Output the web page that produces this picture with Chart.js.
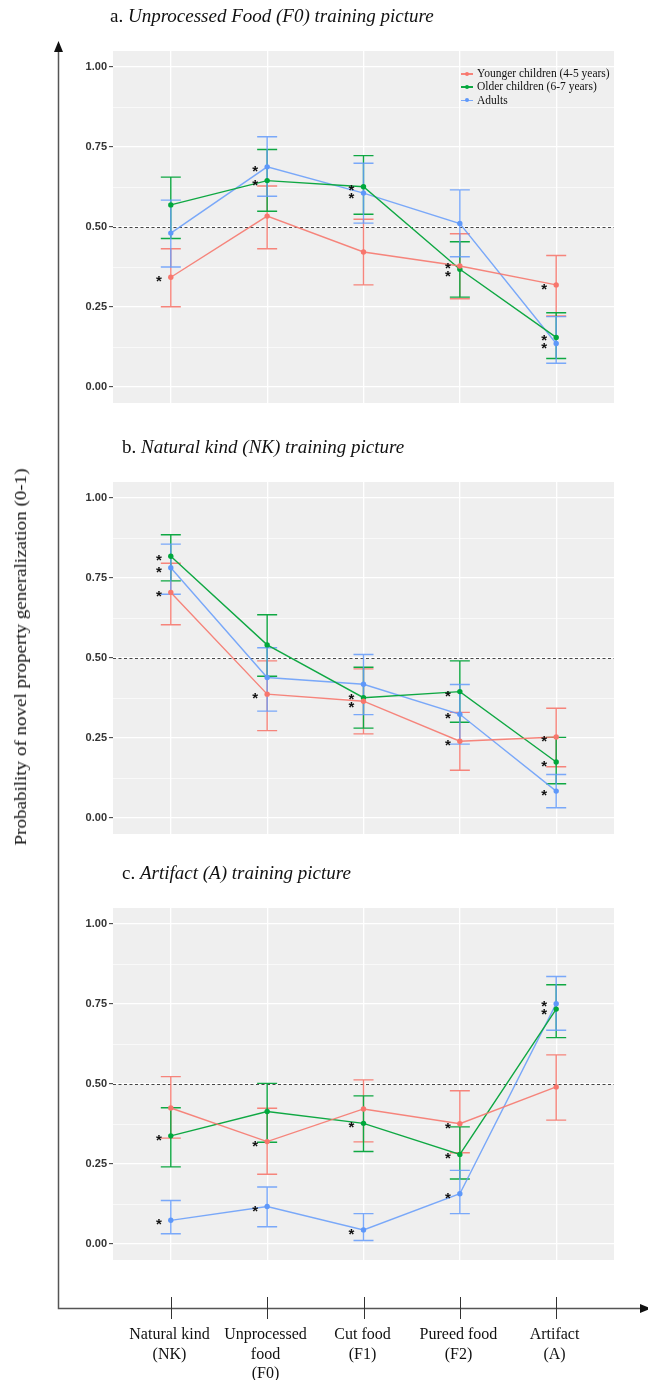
<!DOCTYPE html>
<html>
<head>
<meta charset="utf-8">
<script src="https://cdn.jsdelivr.net/npm/chart.js@4"></script>
<style>
  body { margin: 0; background: #fff; width: 648px; height: 1380px; position: relative; overflow: hidden; font-family: "Liberation Serif", serif; color: #111; }
  canvas { position: absolute; left: 0; }
  .title { position: absolute; font-size: 19px; line-height: 20px; white-space: nowrap; }
  .legend { position: absolute; left: 461px; top: 67px; font-size: 11.5px; line-height: 13.3px; white-space: nowrap; }
  .legend .sym { display: inline-block; position: relative; width: 12px; height: 13px; vertical-align: top; margin-right: 4px; }
  .legend .sym i { position: absolute; left: 0; top: 6px; width: 12px; height: 1.5px; }
  .legend .sym b { position: absolute; left: 4px; top: 4.8px; width: 4px; height: 4px; border-radius: 50%; }
  .xlab { position: absolute; width: 130px; text-align: center; font-size: 16px; line-height: 19.5px; top: 1324px; }
  .ytitle { position: absolute; left: 21px; top: 657px; font-size: 17px; white-space: nowrap; transform: translate(-50%, -50%) rotate(-90deg) scaleX(1.12); }
</style>
</head>
<body>
<canvas id="axes" width="648" height="1380"></canvas>
<canvas id="chartA" width="648" height="380" style="top:40px"></canvas>
<canvas id="chartB" width="648" height="380" style="top:471px"></canvas>
<canvas id="chartC" width="648" height="380" style="top:897px"></canvas>

<div class="title" style="left:110px;top:6px">a. <i>Unprocessed Food (F0) training picture</i></div>
<div class="title" style="left:122px;top:437px">b. <i>Natural kind (NK) training picture</i></div>
<div class="title" style="left:122px;top:863px">c. <i>Artifact (A) training picture</i></div>
<div class="ytitle">Probability of novel property generalization (0-1)</div>
<div class="legend" id="legend"></div>

<script>
// categories on the x axis (one row per label line)
const categories = [
  ["Natural kind", "(NK)"],
  ["Unprocessed", "food", "(F0)"],
  ["Cut food", "(F1)"],
  ["Pureed food", "(F2)"],
  ["Artifact", "(A)"],
];
const groups = ["Younger children (4-5 years)", "Older children (6-7 years)", "Adults"];
const yTicks = [0, 0.25, 0.5, 0.75, 1];
const chanceLevel = 0.5;

// a. Unprocessed food (F0) training picture
const youngA = [0.343, 0.534, 0.422, 0.378, 0.319];
const youngALo = [0.251, 0.432, 0.319, 0.276, 0.222];
const youngAHi = [0.432, 0.628, 0.524, 0.479, 0.411];
const olderA = [0.569, 0.645, 0.626, 0.368, 0.155];
const olderALo = [0.464, 0.549, 0.540, 0.281, 0.089];
const olderAHi = [0.656, 0.742, 0.723, 0.454, 0.232];
const adultA = [0.481, 0.688, 0.606, 0.511, 0.136];
const adultALo = [0.375, 0.596, 0.512, 0.407, 0.074];
const adultAHi = [0.584, 0.782, 0.699, 0.616, 0.220];
const starsA = [[1, 0, 0, 1, 1], [0, 1, 1, 1, 1], [0, 1, 1, 0, 1]];

// b. Natural kind (NK) training picture
const youngB = [0.705, 0.387, 0.365, 0.240, 0.253];
const youngBLo = [0.604, 0.273, 0.263, 0.149, 0.160];
const youngBHi = [0.796, 0.491, 0.466, 0.330, 0.343];
const olderB = [0.818, 0.541, 0.376, 0.395, 0.175];
const olderBLo = [0.741, 0.443, 0.281, 0.299, 0.107];
const olderBHi = [0.885, 0.635, 0.471, 0.491, 0.252];
const adultB = [0.782, 0.439, 0.418, 0.324, 0.084];
const adultBLo = [0.699, 0.334, 0.323, 0.231, 0.032];
const adultBHi = [0.856, 0.532, 0.511, 0.417, 0.136];
const starsB = [[1, 1, 1, 1, 1], [1, 0, 1, 1, 1], [1, 0, 0, 1, 1]];

// c. Artifact (A) training picture
const youngC = [0.425, 0.320, 0.422, 0.376, 0.491];
const youngCLo = [0.331, 0.218, 0.319, 0.285, 0.387];
const youngCHi = [0.523, 0.424, 0.513, 0.479, 0.591];
const olderC = [0.338, 0.414, 0.377, 0.280, 0.734];
const olderCLo = [0.241, 0.318, 0.289, 0.203, 0.645];
const olderCHi = [0.426, 0.502, 0.463, 0.366, 0.810];
const adultC = [0.074, 0.117, 0.044, 0.157, 0.751];
const adultCLo = [0.032, 0.054, 0.011, 0.095, 0.668];
const adultCHi = [0.136, 0.178, 0.095, 0.230, 0.836];
const starsC = [[0, 1, 0, 1, 0], [1, 0, 1, 1, 1], [1, 1, 1, 1, 1]];

const lineColors = ["rgba(246,120,110,0.9)", "#0FA843", "rgba(100,155,250,0.85)"];
const dotColors = ["#F8766D", "#00A83C", "#5E98FA"];

// background, chance line, error bars, significance stars
const panelPlugin = {
  id: "panel",
  beforeDraw(chart) {
    const a = chart.chartArea, c = chart.ctx;
    c.save();
    c.fillStyle = "#EFEFEF";
    c.fillRect(a.left, a.top, a.right - a.left, a.bottom - a.top);
    c.restore();
  },
  beforeDatasetsDraw(chart) {
    const a = chart.chartArea, c = chart.ctx;
    const xs = chart.scales.x, ys = chart.scales.y;
    c.save();
    // dashed line at chance
    const y5 = Math.round(ys.getPixelForValue(chanceLevel)) + 0.5;
    c.strokeStyle = "#333";
    c.lineWidth = 0.9;
    c.setLineDash([3, 2.5]);
    c.beginPath();
    c.moveTo(a.left, y5);
    c.lineTo(a.right, y5);
    c.stroke();
    c.setLineDash([]);
    // error bars
    chart.data.datasets.forEach((ds) => {
      c.strokeStyle = ds.borderColor;
      c.lineWidth = 1.4;
      ds.errLo.forEach((lo, j) => {
        const x = xs.getPixelForValue(j + 1);
        const y1 = ys.getPixelForValue(lo), y2 = ys.getPixelForValue(ds.errHi[j]);
        c.beginPath();
        c.moveTo(x, y1); c.lineTo(x, y2);
        c.moveTo(x - 10, y1); c.lineTo(x + 10, y1);
        c.moveTo(x - 10, y2); c.lineTo(x + 10, y2);
        c.stroke();
      });
    });
    c.restore();
  },
  afterDatasetsDraw(chart) {
    const c = chart.ctx, xs = chart.scales.x, ys = chart.scales.y;
    c.save();
    c.fillStyle = "#111";
    c.font = "bold 15px 'Liberation Sans'";
    c.textAlign = "center";
    c.textBaseline = "alphabetic";
    for (let j = 0; j < categories.length; j++) {
      const ys_ = [];
      chart.data.datasets.forEach((ds) => {
        if (ds.stars[j]) ys_.push(ys.getPixelForValue(ds.data[j].y));
      });
      ys_.sort((p, q) => p - q);
      // keep stars apart when the means are close
      for (let k = 1; k < ys_.length; k++) {
        if (ys_[k] - ys_[k - 1] < 8) {
          const mid = (ys_[k] + ys_[k - 1]) / 2;
          ys_[k - 1] = mid - 4;
          ys_[k] = mid + 4;
        }
      }
      const x = xs.getPixelForValue(j + 1) - 12;
      ys_.forEach((y) => c.fillText("*", x, y + 9));
    }
    c.restore();
  },
};

function makePanel(id, means, los, his, stars) {
  const datasets = means.map((m, g) => ({
    label: groups[g],
    data: m.map((v, j) => ({ x: j + 1, y: v })),
    errLo: los[g],
    errHi: his[g],
    stars: stars[g],
    borderColor: lineColors[g],
    backgroundColor: dotColors[g],
    pointBackgroundColor: dotColors[g],
    pointBorderWidth: 0,
    pointRadius: 2.7,
    borderWidth: 1.4,
    tension: 0,
  }));
  return new Chart(document.getElementById(id), {
    type: "line",
    data: { datasets },
    plugins: [panelPlugin],
    options: {
      responsive: false,
      devicePixelRatio: 1,
      animation: false,
      layout: { padding: { top: 11, right: 34, bottom: 17, left: 0 } },
      plugins: { legend: { display: false }, tooltip: { enabled: false } },
      scales: {
        x: {
          type: "linear",
          min: 0.4,
          max: 5.6,
          afterBuildTicks: (s) => { s.ticks = categories.map((_, i) => ({ value: i + 1 })); },
          afterFit: (s) => { s.height = 0; },
          ticks: { display: false },
          border: { display: false },
          grid: { color: "#FFFFFF", lineWidth: 1.3, drawTicks: false },
        },
        y: {
          min: -0.05,
          max: 1.05,
          afterBuildTicks: (s) => {
            const t = [];
            for (let k = 0; k <= 8; k++) t.push({ value: k * 0.125 });
            s.ticks = t;
          },
          afterFit: (s) => { s.width = 113; },
          border: { display: false },
          ticks: {
            autoSkip: false,
            padding: 2,
            color: "#333",
            font: { family: "Liberation Sans", size: 11, weight: "bold" },
            callback: (v) => (yTicks.includes(v) ? v.toFixed(2) : ""),
          },
          grid: {
            color: "#FFFFFF",
            lineWidth: (ctx) => (ctx.tick && yTicks.includes(ctx.tick.value) ? 1.3 : 0.6),
            tickLength: 4,
            tickColor: (ctx) => (ctx.tick && yTicks.includes(ctx.tick.value) ? "#333" : "rgba(0,0,0,0)"),
            tickWidth: 1,
          },
        },
      },
    },
  });
}

makePanel("chartA", [youngA, olderA, adultA], [youngALo, olderALo, adultALo], [youngAHi, olderAHi, adultAHi], starsA);
makePanel("chartB", [youngB, olderB, adultB], [youngBLo, olderBLo, adultBLo], [youngBHi, olderBHi, adultBHi], starsB);
const chartC = makePanel("chartC", [youngC, olderC, adultC], [youngCLo, olderCLo, adultCLo], [youngCHi, olderCHi, adultCHi], starsC);

// legend in panel a
const legend = document.getElementById("legend");
groups.forEach((g, i) => {
  const row = document.createElement("div");
  row.innerHTML = '<span class="sym"><i style="background:' + lineColors[i] + '"></i><b style="background:' +
    dotColors[i] + '"></b></span>' + g;
  legend.appendChild(row);
});

// outer axes with arrows and category labels
const ax = document.getElementById("axes").getContext("2d");
const axisY = 1308.5, axisX = 58.5;
ax.strokeStyle = "#555";
ax.lineWidth = 1.5;
ax.beginPath();
ax.moveTo(axisX, 50); ax.lineTo(axisX, axisY);
ax.lineTo(641, axisY);
ax.stroke();
ax.fillStyle = "#111";
ax.beginPath();
ax.moveTo(axisX, 41); ax.lineTo(axisX - 4.5, 52); ax.lineTo(axisX + 4.5, 52); ax.closePath();
ax.fill();
ax.beginPath();
ax.moveTo(651, axisY); ax.lineTo(640, axisY - 4.5); ax.lineTo(640, axisY + 4.5); ax.closePath();
ax.fill();
ax.strokeStyle = "#333";
ax.lineWidth = 1;
categories.forEach((lines, i) => {
  const px = Math.round(chartC.scales.x.getPixelForValue(i + 1)) + 0.5;
  ax.beginPath();
  ax.moveTo(px, 1297); ax.lineTo(px, 1319);
  ax.stroke();
  const d = document.createElement("div");
  d.className = "xlab";
  d.style.left = (px - 65 - 2) + "px";
  d.innerHTML = lines.join("<br>");
  document.body.appendChild(d);
});
</script>
</body>
</html>
